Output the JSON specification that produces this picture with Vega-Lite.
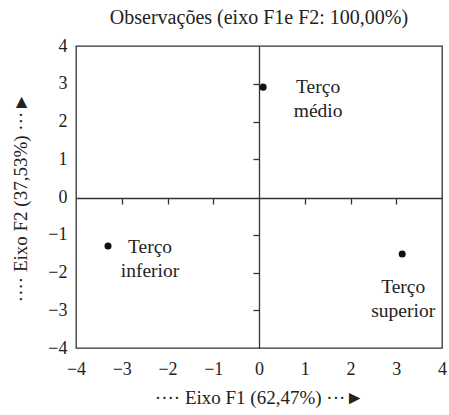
{
  "$schema": "https://vega.github.io/schema/vega-lite/v6.json",
  "width": 366,
  "height": 302,
  "autosize": {"type": "none"},
  "padding": {"left": 76, "top": 46, "right": 7, "bottom": 67},
  "background": "white",
  "config": {
    "font": "Liberation Serif",
    "view": {"stroke": "#333333", "strokeWidth": 1.3},
    "axis": {"grid": false, "labelFont": "Liberation Serif", "titleFont": "Liberation Serif", "labelColor": "#222222", "titleColor": "#222222", "titleFontWeight": "normal"}
  },
  "title": {"text": "Observações (eixo F1e F2: 100,00%)", "font": "Liberation Serif", "fontSize": 20, "fontWeight": "normal", "color": "#222222", "offset": 9},
  "data": {"values": [
    {"label": "Terço médio", "F1": 0.09, "F2": 2.91},
    {"label": "Terço inferior", "F1": -3.3, "F2": -1.3},
    {"label": "Terço superior", "F1": 3.13, "F2": -1.51}
  ]},
  "resolve": {"axis": {"x": "independent", "y": "independent"}},
  "layer": [
    {
      "mark": {"type": "circle", "size": 50, "color": "#111111", "opacity": 1},
      "encoding": {
        "x": {"field": "F1", "type": "quantitative", "scale": {"domain": [-4, 4], "nice": false, "zero": false},
          "axis": {"orient": "bottom", "values": [-4,-3,-2,-1,0,1,2,3,4], "domain": false, "ticks": false, "labelPadding": 12, "labelFontSize": 18, "labelFlush": false, "title": "····  Eixo F1 (62,47%)  ···►", "titleFontSize": 19, "titlePadding": 10}},
        "y": {"field": "F2", "type": "quantitative", "scale": {"domain": [-4, 4], "nice": false, "zero": false},
          "axis": {"orient": "left", "values": [-4,-3,-2,-1,0,1,2,3,4], "domain": false, "ticks": false, "labelPadding": 9, "labelFontSize": 18, "labelFlush": false, "title": "····  Eixo F2 (37,53%)  ···►", "titleFontSize": 19, "titlePadding": 17}}
      }
    },
    {
      "mark": {"type": "point", "opacity": 0},
      "encoding": {
        "x": {"field": "F1", "type": "quantitative",
          "axis": {"orient": "bottom", "offset": -150, "values": [-3,-2,-1,1,2,3], "domain": true, "domainColor": "#333333", "domainWidth": 1.3, "labels": false, "ticks": true, "tickSize": 6, "tickColor": "#333333", "tickWidth": 1.3, "title": null}},
        "y": {"field": "F2", "type": "quantitative",
          "axis": {"orient": "left", "offset": -183, "values": [-3,-2,-1,1,2,3], "domain": true, "domainColor": "#333333", "domainWidth": 1.3, "labels": false, "ticks": true, "tickSize": 6, "tickColor": "#333333", "tickWidth": 1.3, "title": null}}
      }
    },
    {
      "transform": [{"filter": "datum.label == 'Terço médio'"}],
      "mark": {"type": "text", "fontSize": 19.5, "lineBreak": " ", "lineHeight": 24, "dx": 55, "dy": 0, "align": "center", "baseline": "middle", "color": "#222222"},
      "encoding": {"x": {"field": "F1", "type": "quantitative", "axis": null}, "y": {"field": "F2", "type": "quantitative", "axis": null}, "text": {"field": "label"}}
    },
    {
      "transform": [{"filter": "datum.label == 'Terço inferior'"}],
      "mark": {"type": "text", "fontSize": 19.5, "lineBreak": " ", "lineHeight": 24, "dx": 42, "dy": 1, "align": "center", "baseline": "middle", "color": "#222222"},
      "encoding": {"x": {"field": "F1", "type": "quantitative", "axis": null}, "y": {"field": "F2", "type": "quantitative", "axis": null}, "text": {"field": "label"}}
    },
    {
      "transform": [{"filter": "datum.label == 'Terço superior'"}],
      "mark": {"type": "text", "fontSize": 19.5, "lineBreak": " ", "lineHeight": 24, "dx": 1, "dy": 33, "align": "center", "baseline": "middle", "color": "#222222"},
      "encoding": {"x": {"field": "F1", "type": "quantitative", "axis": null}, "y": {"field": "F2", "type": "quantitative", "axis": null}, "text": {"field": "label"}}
    }
  ]
}
